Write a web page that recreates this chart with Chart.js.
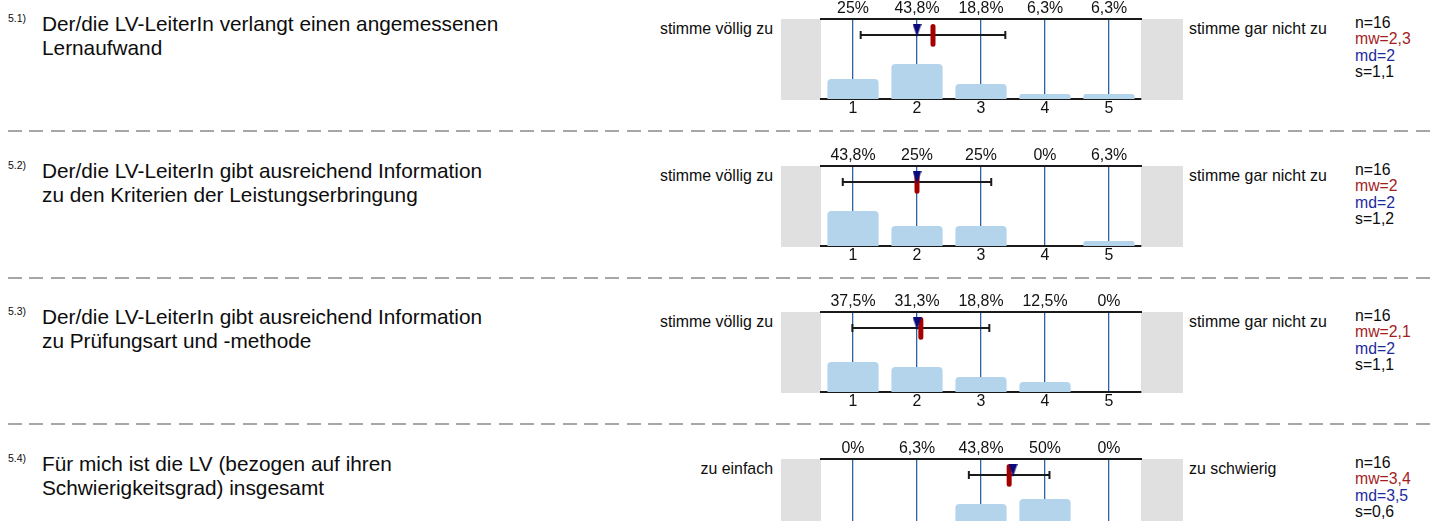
<!DOCTYPE html>
<html>
<head>
<meta charset="utf-8">
<script src="https://cdn.jsdelivr.net/npm/chart.js@4.4.0/dist/chart.umd.min.js"></script>
<style>
  html, body { margin: 0; padding: 0; background: #fff; overflow: hidden; }
  body { width: 1431px; height: 521px; position: relative; font-family: "Liberation Sans", Arial, sans-serif; color: #0d0d0d; }
  .abs { position: absolute; white-space: nowrap; }
  .num { font-size: 10.5px; line-height: 12px; }
  .q { font-size: 20.8px; line-height: 23.5px; }
  .lbl { font-size: 15.9px; line-height: 18px; }
  .stats { font-size: 15.8px; line-height: 16.5px; }
  .mw { color: #a31d1d; }
  .md { color: #1d2a9e; }
  .dash { position: absolute; left: 8px; right: 0; height: 2px;
    background: repeating-linear-gradient(to right, #a6a6a6 0 14px, transparent 14px 21.33px); }
  canvas { position: absolute; }
</style>
</head>
<body>
<script>
  // --- data ---
  const questionNos = ['5.1)', '5.2)', '5.3)', '5.4)'];
  const questions = [
    ['Der/die LV-LeiterIn verlangt einen angemessenen', 'Lernaufwand'],
    ['Der/die LV-LeiterIn gibt ausreichend Information', 'zu den Kriterien der Leistungserbringung'],
    ['Der/die LV-LeiterIn gibt ausreichend Information', 'zu Prüfungsart und -methode'],
    ['Für mich ist die LV (bezogen auf ihren', 'Schwierigkeitsgrad) insgesamt']
  ];
  const leftLabels = ['stimme völlig zu', 'stimme völlig zu', 'stimme völlig zu', 'zu einfach'];
  const rightLabels = ['stimme gar nicht zu', 'stimme gar nicht zu', 'stimme gar nicht zu', 'zu schwierig'];
  const categories = ['1', '2', '3', '4', '5'];
  const pct51 = [25, 43.8, 18.8, 6.3, 6.3];
  const pct52 = [43.8, 25, 25, 0, 6.3];
  const pct53 = [37.5, 31.3, 18.8, 12.5, 0];
  const pct54 = [0, 6.3, 43.8, 50, 0];
  const counts = [16, 16, 16, 16];
  const means = [2.25, 2, 2.06, 3.44];
  const medians = [2, 2, 2, 3.5];
  const stdDevs = [1.13, 1.16, 1.07, 0.63];

  const pctData = [pct51, pct52, pct53, pct54];
  const panelTops = [0, 147, 293, 440];
  const FONT = '"Liberation Sans", Arial, sans-serif';

  function fmt(v) {
    return String(Math.round(v * 10) / 10).replace('.', ',');
  }

  function addDiv(cls, html, style) {
    const d = document.createElement('div');
    d.className = 'abs ' + cls;
    d.innerHTML = html;
    Object.assign(d.style, style);
    document.body.appendChild(d);
    return d;
  }

  // small navy triangle used as the median marker
  const triangle = document.createElement('canvas');
  triangle.width = 9;
  triangle.height = 13;
  const tctx = triangle.getContext('2d');
  tctx.fillStyle = '#0a0a7a';
  tctx.beginPath();
  tctx.moveTo(0, 0);
  tctx.lineTo(9, 0);
  tctx.lineTo(4.5, 13);
  tctx.closePath();
  tctx.fill();

  const sideBoxes = {
    id: 'sideBoxes',
    beforeDraw(chart) {
      const { ctx, chartArea: a } = chart;
      ctx.save();
      ctx.fillStyle = '#e0e0e0';
      ctx.fillRect(a.left - 40, a.top, 40, a.bottom - a.top + 1);
      ctx.fillRect(a.right, a.top, 42, a.bottom - a.top + 1);
      ctx.restore();
    }
  };

  pctData.forEach((pct, i) => {
    const top = panelTops[i];

    addDiv('num', questionNos[i], { left: '8px', top: (top + 11.5) + 'px' });
    addDiv('q', questions[i].join('<br>'), { left: '42px', top: (top + 12) + 'px' });
    addDiv('lbl', leftLabels[i], { right: '658px', top: (top + 20.4) + 'px' });
    addDiv('lbl', rightLabels[i], { left: '1189px', top: (top + 20.4) + 'px' });
    addDiv('stats',
      'n=' + counts[i] + '<br><span class="mw">mw=' + fmt(means[i]) + '</span><br>' +
      '<span class="md">md=' + fmt(medians[i]) + '</span><br>s=' + fmt(stdDevs[i]),
      { left: '1355px', top: (top + 14.5) + 'px' });

    if (i < pctData.length - 1) {
      const dash = document.createElement('div');
      dash.className = 'dash';
      dash.style.top = (top + 130) + 'px';
      document.body.appendChild(dash);
    }

    const canvas = document.createElement('canvas');
    canvas.width = 420;
    canvas.height = 125;
    canvas.style.left = '770px';
    canvas.style.top = top + 'px';
    document.body.appendChild(canvas);

    const m = means[i], s = stdDevs[i];
    new Chart(canvas, {
      type: 'bar',
      data: {
        labels: categories,
        datasets: [
          {
            type: 'scatter',
            data: [{ x: medians[i], y: 86 }],
            xAxisID: 'xv',
            pointStyle: triangle,
            pointRadius: 5,
            order: 0
          },
          {
            type: 'line',
            data: [{ x: m, y: 90.6 }, { x: m, y: 68.5 }],
            xAxisID: 'xv',
            borderColor: '#a50000',
            borderWidth: 5,
            borderCapStyle: 'round',
            pointRadius: 0,
            order: 1
          },
          {
            type: 'line',
            data: [{ x: m - s, y: 80 }, { x: m + s, y: 80 }],
            xAxisID: 'xv',
            borderColor: '#1a1a1a',
            borderWidth: 2,
            pointStyle: 'line',
            pointRotation: 90,
            pointRadius: 4,
            pointBorderWidth: 2,
            pointBorderColor: '#1a1a1a',
            order: 2
          },
          {
            type: 'bar',
            data: pct,
            xAxisID: 'x',
            grouped: false,
            backgroundColor: '#b4d4eb',
            borderRadius: 4,
            borderSkipped: 'start',
            barPercentage: 0.8,
            categoryPercentage: 1,
            order: 3
          }
        ]
      },
      options: {
        responsive: false,
        animation: false,
        events: [],
        layout: { padding: { left: 51, right: 49, top: 0, bottom: 0 } },
        plugins: { legend: { display: false }, tooltip: { enabled: false } },
        scales: {
          x: {
            type: 'category',
            position: 'bottom',
            offset: true,
            z: 1,
            grid: { offset: false, color: '#2b63a6', lineWidth: 1.3, drawTicks: false },
            border: { display: true, color: '#1a1a1a', width: 2 },
            ticks: { padding: 0, color: '#111', font: { family: FONT, size: 15.9 } },
            afterFit: (sc) => { sc.height = 26; }
          },
          x2: {
            type: 'category',
            position: 'top',
            labels: pct.map(v => String(v).replace('.', ',') + '%'),
            offset: true,
            grid: { display: false, drawTicks: false },
            border: { display: true, color: '#1a1a1a', width: 2 },
            ticks: { padding: 1, color: '#111', font: { family: FONT, size: 15.9 } },
            afterFit: (sc) => { sc.height = 19; }
          },
          xv: { type: 'linear', display: false, offset: false, min: 0.5, max: 5.5 },
          y: { display: false, min: 0, max: 100 }
        }
      },
      plugins: [sideBoxes]
    });
  });
</script>
</body>
</html>
